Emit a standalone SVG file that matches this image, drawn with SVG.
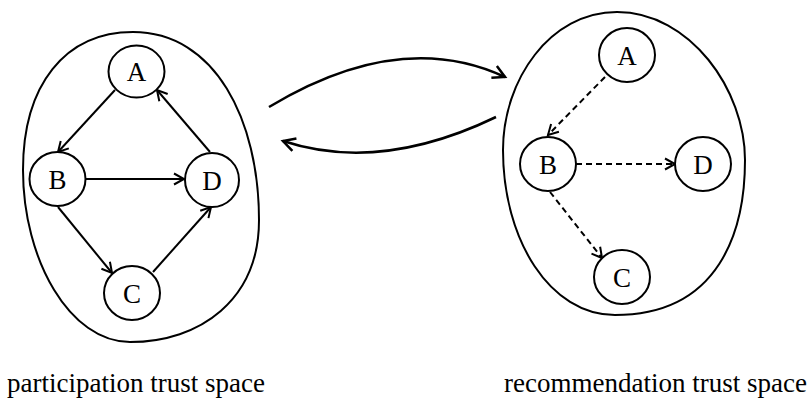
<svg xmlns="http://www.w3.org/2000/svg" width="811" height="402" viewBox="0 0 811 402">
<style>
.blob{fill:none;stroke:#000;stroke-width:2}
.node{fill:#fff;stroke:#000;stroke-width:2}
.lbl{font-size:27px;text-anchor:middle;fill:#000}
.cap{font-size:27px;fill:#000}
.e{fill:none;stroke:#000;stroke-width:2;marker-end:url(#ah)}
.d{fill:none;stroke:#000;stroke-width:2;stroke-dasharray:6 4;marker-end:url(#ah)}
.c{fill:none;stroke:#000;stroke-width:2.5;marker-end:url(#ahl)}
</style>
<defs>
<marker id="ah" markerUnits="userSpaceOnUse" markerWidth="14" markerHeight="14" refX="11" refY="6" orient="auto" viewBox="0 0 14 12">
<path d="M1,0.5 L11,6 L1,11.5" fill="none" stroke="#000" stroke-width="2"/>
</marker>
<marker id="ahl" markerUnits="userSpaceOnUse" markerWidth="16" markerHeight="16" refX="13" refY="7" orient="auto" viewBox="0 0 16 14">
<path d="M1,0.5 L13,7 L1,13.5" fill="none" stroke="#000" stroke-width="2.5"/>
</marker>
</defs>
<g id="left-space">
<path class="blob" d="M133,32 C215,32 259,120 259,220 C259,300 200,342 130,342 C70,342 23,260 23,170 C23,85 65,32 133,32 Z"/>
</g>
<g id="right-space">
<path class="blob" d="M617,12 C690,12 745,90 745,160 C745,230 720,315 615,315 C550,315 503,240 503,150 C503,80 550,12 617,12 Z"/>
</g>
<g id="connectors">
<line class="e" x1="115" y1="90" x2="58" y2="152"/>
<line class="e" x1="86" y1="179" x2="184" y2="179"/>
<line class="e" x1="58" y1="207" x2="112" y2="273"/>
<line class="e" x1="153" y1="272" x2="211" y2="207"/>
<line class="e" x1="210" y1="152" x2="157" y2="90"/>
<line class="d" x1="605" y1="77" x2="548" y2="135"/>
<line class="d" x1="576" y1="164" x2="675" y2="164"/>
<line class="d" x1="550" y1="192" x2="602" y2="258"/>
<path class="c" d="M269,107 Q400,28 505,77"/>
<path class="c" d="M496,117 Q380,173 283,141"/>
</g>
<g font-family="Liberation Serif, Times New Roman, serif">
<g id="L-A"><ellipse class="node" cx="136.5" cy="71.5" rx="28" ry="26"/><text class="lbl" x="136.5" y="81">A</text></g>
<g id="L-B"><ellipse class="node" cx="57.5" cy="179" rx="28" ry="27"/><text class="lbl" x="57.5" y="188.5">B</text></g>
<g id="L-D"><ellipse class="node" cx="212" cy="180" rx="27" ry="27"/><text class="lbl" x="212" y="189.5">D</text></g>
<g id="L-C"><ellipse class="node" cx="132" cy="293" rx="28" ry="27"/><text class="lbl" x="132" y="302.5">C</text></g>
<g id="R-A"><ellipse class="node" cx="627" cy="55" rx="28" ry="27"/><text class="lbl" x="627" y="64.5">A</text></g>
<g id="R-B"><ellipse class="node" cx="548" cy="164" rx="28" ry="27"/><text class="lbl" x="548" y="173.5">B</text></g>
<g id="R-D"><ellipse class="node" cx="703" cy="164" rx="28" ry="27"/><text class="lbl" x="703" y="173.5">D</text></g>
<g id="R-C"><ellipse class="node" cx="622" cy="277" rx="28" ry="27"/><text class="lbl" x="622" y="286.5">C</text></g>
<text class="cap" x="7" y="392">participation trust space</text>
<text class="cap" x="807" y="392" text-anchor="end">recommendation trust space</text>
</g>
</svg>
